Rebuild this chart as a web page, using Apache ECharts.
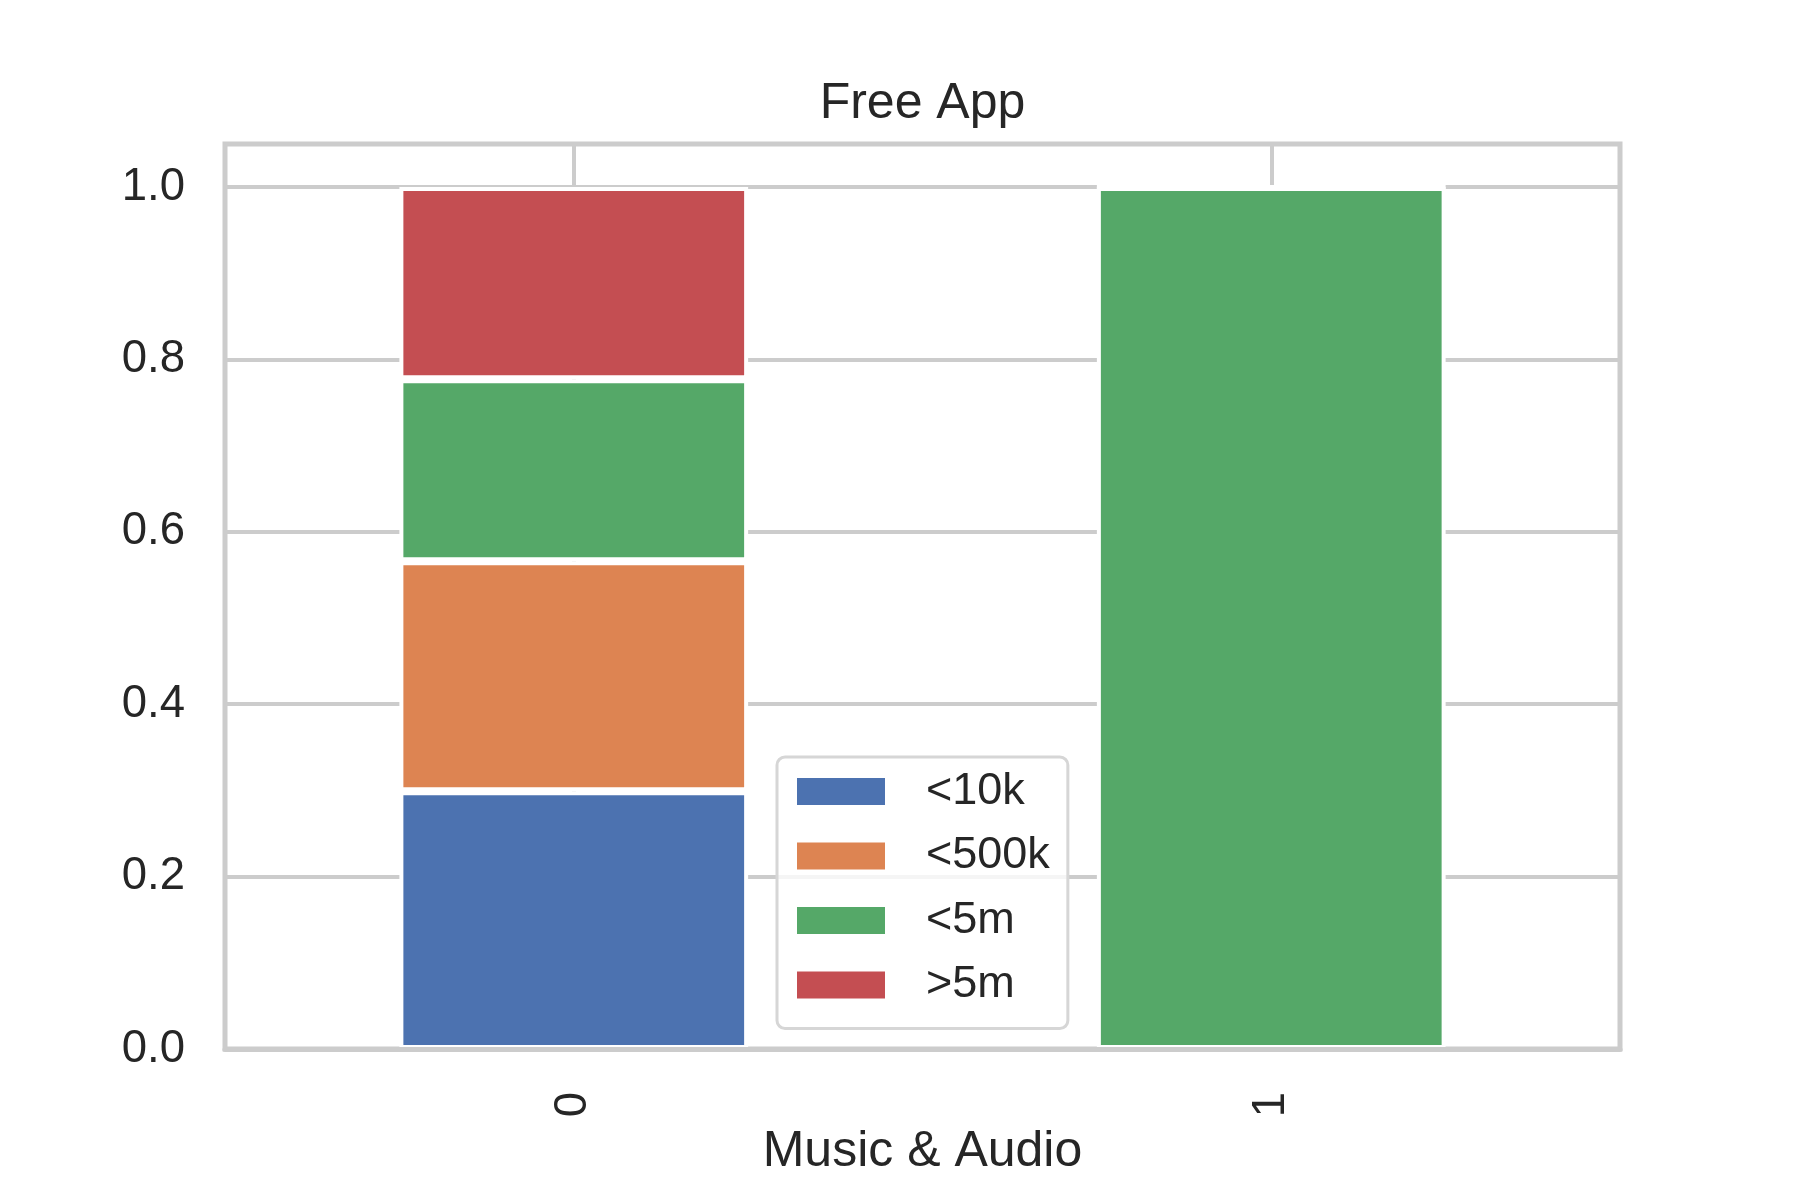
<!DOCTYPE html>
<html>
<head>
<meta charset="utf-8">
<script src="https://cdn.jsdelivr.net/npm/echarts@6/dist/echarts.min.js"></script>
<style>
  html, body { margin: 0; padding: 0; background: #fff; }
  #chart { width: 1800px; height: 1200px; }
</style>
</head>
<body>
<div id="chart"></div>
<script>
// data
var categories = ['0', '1'];
var seriesNames = ['<10k', '<500k', '<5m', '>5m'];
var under10k = [0.299, 0];
var under500k = [0.267, 0];
var under5m = [0.211, 1.0];
var over5m = [0.223, 0];
var yTicks = [0, 0.2, 0.4, 0.6, 0.8, 1.0];

var colors = ['#4C72B0', '#DD8452', '#55A868', '#C44E52'];
var font = "'Liberation Sans', Arial, sans-serif";
var textColor = '#262626';
var gridColor = '#cccccc';

var chart = echarts.init(document.getElementById('chart'));

function barSeries(name, values, idx) {
  return {
    name: name,
    type: 'bar',
    stack: 'total',
    barWidth: '50%',
    xAxisIndex: 0,
    data: values,
    itemStyle: {
      color: colors[idx],
      borderColor: '#ffffff',
      borderWidth: 4
    },
    emphasis: { disabled: true }
  };
}

chart.setOption({
  animation: false,
  backgroundColor: '#ffffff',
  textStyle: { fontFamily: font },
  graphic: [{
    type: 'text',
    x: 922.5,
    y: 104,
    style: {
      text: 'Free App',
      fill: textColor,
      font: '50px ' + font,
      textAlign: 'center',
      textVerticalAlign: 'middle'
    }
  }],
  grid: {
    left: 225,
    right: 180,
    top: 144,
    bottom: 151,
    show: true,
    borderColor: gridColor,
    borderWidth: 5,
    backgroundColor: 'transparent'
  },
  legend: {
    orient: 'vertical',
    left: 777,
    top: 757,
    padding: [12, 18, 21, 20],
    itemWidth: 88,
    itemHeight: 27,
    itemGap: 19.5,
    icon: 'rect',
    backgroundColor: 'rgba(255,255,255,0.8)',
    borderColor: '#d6d6d6',
    borderWidth: 3,
    borderRadius: 8,
    itemStyle: { borderWidth: 0 },
    textStyle: {
      color: textColor,
      fontSize: 45,
      fontFamily: font,
      padding: [0, 0, 0, 36]
    },
    data: seriesNames
  },
  xAxis: [{
    type: 'category',
    data: categories,
    position: 'bottom',
    z: 5,
    axisLine: { show: true, lineStyle: { color: gridColor, width: 5 } },
    axisTick: { show: false },
    axisLabel: {
      rotate: 90,
      margin: 43,
      fontSize: 45.5,
      color: textColor,
      fontFamily: font
    },
    splitLine: { show: false },
    name: 'Music & Audio',
    nameLocation: 'middle',
    nameGap: 78,
    nameTextStyle: { fontSize: 50, color: textColor, fontFamily: font }
  }, {
    // second axis only for the vertical grid lines under the bars
    type: 'category',
    data: categories,
    position: 'bottom',
    z: 0,
    axisLine: { show: false },
    axisTick: { show: false },
    axisLabel: { show: false },
    splitLine: {
      show: true,
      alignWithLabel: true,
      lineStyle: { color: gridColor, width: 4 }
    }
  }],
  yAxis: {
    type: 'value',
    min: 0,
    max: 1.05,
    interval: 0.2,
    axisLine: { show: false },
    axisTick: { show: false },
    axisLabel: {
      margin: 40,
      fontSize: 45.5,
      color: textColor,
      fontFamily: font,
      formatter: function (v) {
        for (var i = 0; i < yTicks.length; i++) {
          if (Math.abs(yTicks[i] - v) < 1e-6) return yTicks[i].toFixed(1);
        }
        return '';
      }
    },
    splitLine: { show: true, lineStyle: { color: gridColor, width: 4 } }
  },
  series: [
    barSeries(seriesNames[0], under10k, 0),
    barSeries(seriesNames[1], under500k, 1),
    barSeries(seriesNames[2], under5m, 2),
    barSeries(seriesNames[3], over5m, 3)
  ]
});
</script>
</body>
</html>
